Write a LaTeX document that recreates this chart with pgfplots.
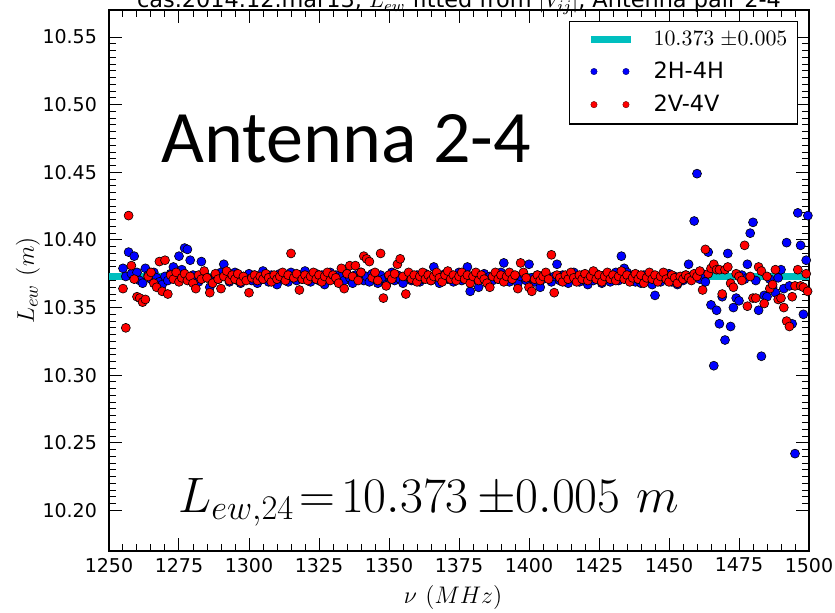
\documentclass[border=0pt]{standalone}
\usepackage{pgfplots}
\usepackage{pgfplotstable}
\pgfplotsset{compat=1.18}
\usepackage{fontspec}
\newfontfamily\dejavu{DejaVu Sans}
\newfontfamily\carlito{Carlito}
\definecolor{mplcyan}{rgb}{0,0.75,0.75}

\pgfplotstableread{
x y
1255 10.379
1256 10.373
1257 10.391
1258 10.375
1259 10.388
1260 10.376
1261 10.370
1262 10.368
1263 10.379
1264 10.374
1265 10.371
1266 10.376
1267 10.372
1268 10.369
1269 10.367
1270 10.373
1271 10.370
1272 10.375
1273 10.380
1274 10.372
1275 10.388
1276 10.378
1277 10.394
1278 10.393
1279 10.385
1280 10.374
1281 10.371
1282 10.369
1283 10.384
1284 10.375
1285 10.372
1286 10.365
1287 10.370
1288 10.374
1289 10.371
1290 10.376
1291 10.382
1292 10.374
1293 10.369
1294 10.372
1295 10.376
1296 10.370
1297 10.368
1298 10.373
1299 10.371
1300 10.375
1301 10.370
1302 10.374
1303 10.368
1304 10.372
1305 10.377
1306 10.371
1307 10.369
1308 10.374
1309 10.372
1310 10.367
1311 10.375
1312 10.371
1313 10.373
1314 10.369
1315 10.376
1316 10.372
1317 10.370
1318 10.374
1319 10.371
1320 10.377
1321 10.373
1322 10.369
1323 10.372
1324 10.375
1325 10.370
1326 10.374
1327 10.367
1328 10.372
1329 10.376
1330 10.371
1331 10.374
1332 10.369
1333 10.373
1334 10.370
1335 10.375
1336 10.372
1337 10.368
1338 10.374
1339 10.371
1340 10.376
1341 10.370
1342 10.373
1343 10.369
1344 10.375
1345 10.372
1346 10.368
1347 10.374
1348 10.371
1349 10.367
1350 10.373
1351 10.376
1352 10.370
1353 10.374
1354 10.371
1355 10.368
1356 10.373
1357 10.375
1358 10.370
1359 10.372
1360 10.374
1361 10.369
1362 10.371
1363 10.375
1364 10.372
1365 10.370
1366 10.380
1367 10.373
1368 10.368
1369 10.372
1370 10.375
1371 10.371
1372 10.374
1373 10.369
1374 10.372
1375 10.376
1376 10.370
1377 10.373
1378 10.380
1379 10.362
1380 10.371
1381 10.374
1382 10.365
1383 10.372
1384 10.375
1385 10.369
1386 10.373
1387 10.370
1388 10.374
1389 10.371
1390 10.376
1391 10.383
1392 10.372
1393 10.369
1394 10.374
1395 10.371
1396 10.368
1397 10.373
1398 10.375
1399 10.370
1400 10.382
1401 10.372
1402 10.369
1403 10.374
1404 10.365
1405 10.371
1406 10.375
1407 10.372
1408 10.369
1409 10.373
1410 10.382
1411 10.370
1412 10.374
1413 10.371
1414 10.368
1415 10.373
1416 10.376
1417 10.371
1418 10.369
1419 10.374
1420 10.372
1421 10.367
1422 10.373
1423 10.370
1424 10.375
1425 10.371
1426 10.368
1427 10.374
1428 10.372
1429 10.369
1430 10.373
1431 10.376
1432 10.370
1433 10.388
1434 10.379
1435 10.376
1436 10.371
1437 10.374
1438 10.369
1439 10.372
1440 10.368
1441 10.374
1442 10.370
1443 10.373
1444 10.367
1445 10.359
1446 10.372
1447 10.369
1448 10.374
1449 10.371
1450 10.375
1451 10.369
1452 10.373
1453 10.367
1454 10.372
1455 10.370
1456 10.374
1457 10.382
1458 10.372
1459 10.414
1460 10.449
1461 10.371
1462 10.375
1463 10.369
1464 10.391
1465 10.352
1466 10.307
1467 10.348
1468 10.338
1469 10.358
1470 10.326
1471 10.390
1472 10.336
1473 10.350
1474 10.357
1475 10.355
1476 10.374
1477 10.371
1478 10.382
1479 10.405
1480 10.413
1481 10.370
1482 10.348
1483 10.314
1484 10.359
1485 10.358
1486 10.371
1487 10.365
1488 10.361
1489 10.372
1490 10.378
1491 10.364
1492 10.398
1493 10.366
1494 10.338
1495 10.242
1496 10.420
1497 10.396
1498 10.345
1499 10.385
1499.6 10.418
}\bluedata

\pgfplotstableread{
x y
1255 10.364
1256 10.335
1257 10.418
1258 10.381
1259 10.371
1260 10.358
1261 10.357
1262 10.354
1263 10.356
1264 10.373
1265 10.376
1266 10.368
1267 10.365
1268 10.384
1269 10.362
1270 10.385
1271 10.360
1272 10.374
1273 10.371
1274 10.376
1275 10.369
1276 10.372
1277 10.375
1278 10.370
1279 10.373
1280 10.368
1281 10.364
1282 10.374
1283 10.371
1284 10.377
1285 10.372
1286 10.361
1287 10.368
1288 10.375
1289 10.371
1290 10.364
1291 10.373
1292 10.377
1293 10.370
1294 10.374
1295 10.371
1296 10.375
1297 10.369
1298 10.373
1299 10.370
1300 10.361
1301 10.372
1302 10.374
1303 10.370
1304 10.373
1305 10.371
1306 10.375
1307 10.372
1308 10.369
1309 10.374
1310 10.371
1311 10.373
1312 10.376
1313 10.370
1314 10.374
1315 10.390
1316 10.372
1317 10.375
1318 10.363
1319 10.371
1320 10.374
1321 10.370
1322 10.373
1323 10.376
1324 10.371
1325 10.374
1326 10.369
1327 10.373
1328 10.376
1329 10.370
1330 10.374
1331 10.372
1332 10.368
1333 10.379
1334 10.364
1335 10.375
1336 10.381
1337 10.373
1338 10.381
1339 10.370
1340 10.376
1341 10.388
1342 10.386
1343 10.384
1344 10.372
1345 10.376
1346 10.370
1347 10.390
1348 10.357
1349 10.366
1350 10.374
1351 10.371
1352 10.375
1353 10.382
1354 10.386
1355 10.373
1356 10.360
1357 10.376
1358 10.371
1359 10.374
1360 10.369
1361 10.373
1362 10.376
1363 10.371
1364 10.374
1365 10.370
1366 10.373
1367 10.376
1368 10.372
1369 10.369
1370 10.374
1371 10.377
1372 10.371
1373 10.374
1374 10.370
1375 10.373
1376 10.376
1377 10.371
1378 10.374
1379 10.368
1380 10.373
1381 10.376
1382 10.370
1383 10.374
1384 10.371
1385 10.368
1386 10.365
1387 10.373
1388 10.376
1389 10.371
1390 10.374
1391 10.369
1392 10.373
1393 10.376
1394 10.371
1395 10.374
1396 10.364
1397 10.383
1398 10.376
1399 10.372
1400 10.365
1401 10.362
1402 10.371
1403 10.374
1404 10.370
1405 10.373
1406 10.376
1407 10.371
1408 10.389
1409 10.361
1410 10.374
1411 10.372
1412 10.369
1413 10.374
1414 10.371
1415 10.376
1416 10.372
1417 10.369
1418 10.374
1419 10.371
1420 10.375
1421 10.370
1422 10.373
1423 10.377
1424 10.371
1425 10.374
1426 10.369
1427 10.373
1428 10.376
1429 10.371
1430 10.374
1431 10.370
1432 10.373
1433 10.377
1434 10.371
1435 10.374
1436 10.369
1437 10.372
1438 10.375
1439 10.371
1440 10.374
1441 10.368
1442 10.372
1443 10.376
1444 10.371
1445 10.374
1446 10.369
1447 10.373
1448 10.376
1449 10.371
1450 10.369
1451 10.374
1452 10.372
1453 10.368
1454 10.373
1455 10.371
1456 10.374
1457 10.372
1458 10.370
1459 10.375
1460 10.373
1461 10.377
1462 10.363
1463 10.393
1464 10.375
1465 10.379
1466 10.382
1467 10.378
1468 10.378
1469 10.360
1470 10.378
1471 10.380
1472 10.368
1473 10.365
1474 10.375
1475 10.373
1476 10.370
1477 10.396
1478 10.351
1479 10.373
1480 10.357
1481 10.357
1482 10.380
1483 10.377
1484 10.353
1485 10.373
1486 10.364
1487 10.367
1488 10.378
1489 10.356
1490 10.357
1491 10.350
1492 10.340
1493 10.336
1494 10.358
1495 10.366
1496 10.378
1497 10.366
1498 10.365
1499 10.375
1499.5 10.362
}\reddata

\begin{document}
\begin{tikzpicture}
\begin{axis}[
  scale only axis,
  width=350pt, height=270.5pt,
  xmin=1250, xmax=1500, ymin=10.17, ymax=10.57,
  xtick={1250,1275,1300,1325,1350,1375,1400,1425,1450,1475,1500},
  ytick={10.20,10.25,10.30,10.35,10.40,10.45,10.50,10.55},
  minor x tick num=4, minor y tick num=9,
  tick align=inside,
  major tick length=6.3pt, minor tick length=3.5pt,
  every tick/.style={black, line width=0.5pt},
  axis line style={black, line width=0.8pt},
  /pgf/number format/.cd, fixed, fixed zerofill, precision=2, 1000 sep={}, assume math mode=true,
  /pgfplots/.cd,
  xticklabel style={font=\dejavu\fontsize{9.5}{11}\selectfont, /pgf/number format/precision=0, /pgf/number format/fixed zerofill=false},
  yticklabel style={font=\dejavu\fontsize{9.5}{11}\selectfont, xshift=-2.5pt},
  every axis x label/.style={at={(rel axis cs:0.5,0)}, yshift=-23pt, xshift=-3pt, anchor=center, font=\fontsize{13}{15}\selectfont},
  every axis y label/.style={at={(rel axis cs:0,0.5)}, xshift=-40.5pt, rotate=90, anchor=center, font=\fontsize{13}{15}\selectfont},
  xlabel={$\nu\ (MHz)$},
  ylabel={$L_{ew}\ (m)$},
  legend style={at={(rel axis cs:0.9843,0.9797)}, anchor=north east, draw=black, line width=0.6pt, fill=white,
    font=\dejavu\fontsize{11.2}{13}\selectfont, inner xsep=3pt, inner ysep=2.75pt, row sep=2.75pt,
    /tikz/every odd column/.style={column sep=7.5pt}},
  legend cell align=left,
]
\addplot[mplcyan, line width=3.6pt,
  legend image code/.code={\path (0pt,0pt) (26pt,0pt); \draw[mplcyan, line width=3.6pt] (6pt,0pt) -- (26pt,0pt);}]
  coordinates {(1250,10.373) (1500,10.373)};
\addplot[only marks, mark=*, mark size=2.25pt, mark options={fill=blue, draw=black, line width=0.3pt},
  legend image code/.code={\path (0pt,0pt) (26pt,0pt); \draw[only marks, mark=*, mark size=1.6pt, mark options={fill=blue, draw=black!60!blue, line width=0.2pt}] plot coordinates {(7.5pt,0pt) (23.5pt,0pt)};}]
  table[x=x, y=y] {\bluedata};
\addplot[only marks, mark=*, mark size=2.25pt, mark options={fill=red, draw=black, line width=0.3pt},
  legend image code/.code={\path (0pt,0pt) (26pt,0pt); \draw[only marks, mark=*, mark size=1.6pt, mark options={fill=red, draw=black!60!red, line width=0.2pt}] plot coordinates {(7.5pt,0pt) (23.5pt,0pt)};}]
  table[x=x, y=y] {\reddata};
\legend{$10.373\;{\pm}0.005$, 2H-4H, 2V-4V}
\node[font=\carlito\fontsize{37}{41}\selectfont, anchor=center] at (axis cs:1334.8,10.4747) {Antenna 2-4};
\node[font=\fontsize{25.4}{30}\selectfont, anchor=base west, inner sep=0pt] at (axis cs:1274.6,10.1985) {$L_{ew,24}\!=\!10.373\,{\pm}0.005\ m$};
\end{axis}
\node[font=\dejavu\fontsize{11.2}{13}\selectfont, anchor=base, inner sep=0pt] at (175pt,271.6pt) {cas.2014.12.mar13, $L_{ew}$ fitted from $|V_{ij}|$, Antenna pair 2-4};
\pgfresetboundingbox
\useasboundingbox (-54.5pt,-30.5pt) rectangle (363pt,275.5pt);
\end{tikzpicture}
\end{document}
